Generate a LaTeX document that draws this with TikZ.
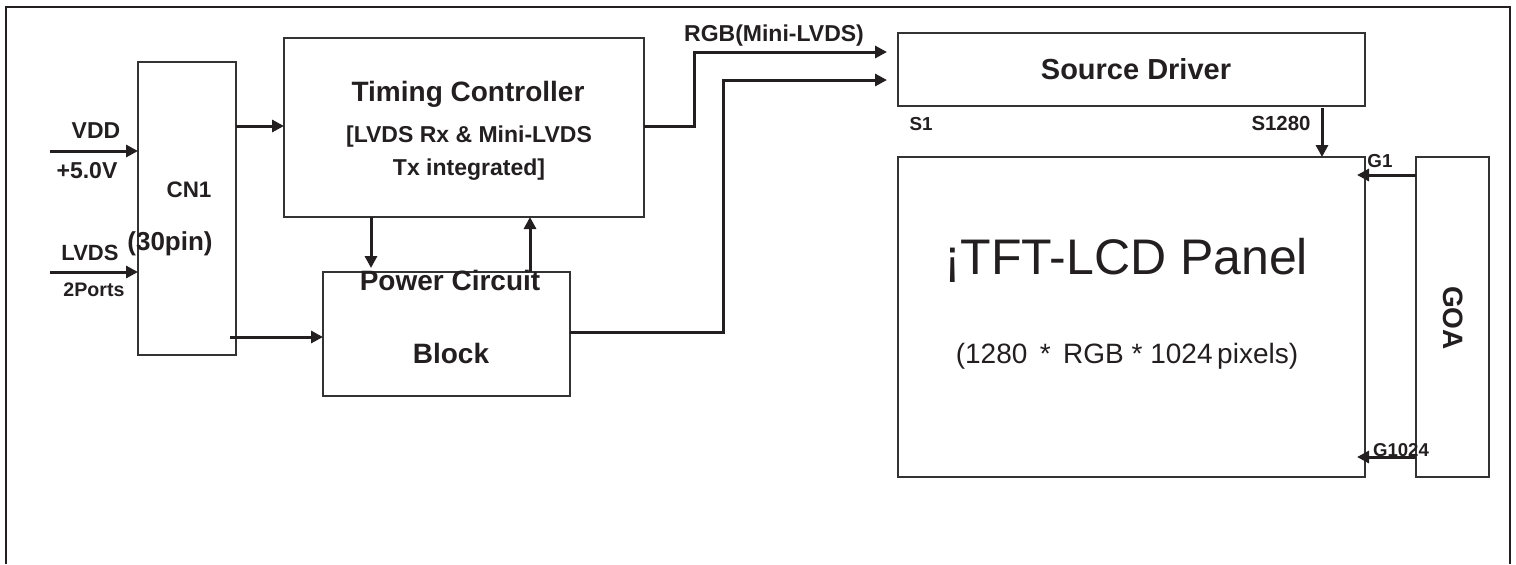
\documentclass[tikz,border=0pt]{standalone}
\usepackage{fontspec}
\setmainfont{Liberation Sans}
\usetikzlibrary{arrows.meta}
\definecolor{ink}{HTML}{231F20}
\definecolor{edge}{HTML}{333333}
\newcommand\fsz[1]{\fontsize{#1}{#1}\selectfont}
\begin{document}
\begin{tikzpicture}[x=0.5pt,y=-0.5pt,
  box/.style={draw=edge,line width=0.95pt,inner sep=0pt,outer sep=0pt,rectangle},
  arr/.style={draw=ink,line width=1.5pt,-{Triangle[length=6pt,width=6pt]}},
  frame/.style={draw=ink,line width=1.2pt},
  lbl/.style={text=ink,inner sep=0pt,anchor=base,font=\bfseries}]
\useasboundingbox (0,0) rectangle (1516,564);
\draw[frame] (6,564) -- (6,7) -- (1510,7) -- (1510,564);

% boxes
\node[box,minimum width=49pt,minimum height=146.5pt] (cn1) at (187,208.5) {};
\node[box,minimum width=180pt,minimum height=89.5pt] (tc) at (464,127.5) {};
\node[box,minimum width=123.5pt,minimum height=62pt] (pb) at (446.5,334) {};
\node[box,minimum width=233.5pt,minimum height=36.5pt] (sd) at (1131.5,69.5) {};
\node[box,minimum width=233.5pt,minimum height=160pt] (panel) at (1131.5,317) {};
\node[box,minimum width=36.5pt,minimum height=160pt] (goa) at (1452.5,317) {};

% labels
\node[lbl] (t1) at (468,101) {\fsz{14}Timing Controller};
\node[lbl] (t2) at (469,142) {\fsz{11.5}[LVDS Rx \& Mini-LVDS};
\node[lbl] (t3) at (469,175) {\fsz{11.5}Tx integrated]};
\node[lbl] (p1) at (450,290) {\fsz{14}Power Circuit};
\node[lbl] (p2) at (451,363) {\fsz{14}Block};
\node[lbl] (c1) at (189,197) {\fsz{11.2}CN1};
\node[lbl] (c2) at (170,250) {\fsz{13}(30pin)};
\node[lbl] (vdd) at (96,138) {\fsz{11.5}VDD};
\node[lbl] (v5) at (87,178) {\fsz{11.5}+5.0V};
\node[lbl] (lv) at (90,260) {\fsz{11}LVDS};
\node[lbl] (pt) at (94,296) {\fsz{9.8}2Ports};
\node[lbl] (rgb) at (774,41) {\fsz{11.5}RGB(Mini-LVDS)};
\node[lbl] (sdt) at (1136,79) {\fsz{14.5}Source Driver};
\node[lbl] (s1) at (921,130) {\fsz{9.4}S1};
\node[lbl] (s1280t) at (1281,130) {\fsz{10.2}S1280};
\node[lbl] (g1) at (1380,167) {\fsz{9.4}G1};
\node[lbl] (g1024) at (1401,456) {\fsz{9.3}G1024};
\node[text=ink,inner sep=0pt,anchor=base] (tft) at (1126,274) {\fsz{25}¡TFT-LCD Panel};
\node[text=ink,inner sep=0pt,anchor=base] (pix) at (1127,363) {\fsz{14}(1280 \,*\, RGB * 1024\,pixels)};
\node[text=ink,inner sep=0pt,font=\bfseries,rotate=-90] (goat) at (1453,318) {\fsz{14}GOA};

% coordinates
\coordinate (vddin) at (50,151);
\coordinate (lvdsin) at (50,272);
\coordinate (ya) at (0,126);
\coordinate (yb) at (0,337);
\coordinate (yc) at (0,332);
\coordinate (dn) at (371,0);
\coordinate (upx) at (530,0);
\coordinate (j1) at (694,52);
\coordinate (j2) at (723,80);
\coordinate (s1280) at (1322,0);
\coordinate (yg1) at (0,175);
\coordinate (yg2) at (0,457);

% connectors
\draw[arr] (vddin) -- (cn1.west |- vddin);
\draw[arr] (lvdsin) -- (cn1.west |- lvdsin);
\draw[arr] (cn1.east |- ya) -- (tc.west |- ya);
\draw[arr] ([xshift=-3pt]cn1.east |- yb) -- (pb.west |- yb);
\draw[arr] (tc.south -| dn) -- ([yshift=2pt]pb.north -| dn);
\draw[arr] (pb.north -| upx) -- (tc.south -| upx);
\draw[arr] (tc.east |- ya) -- (j1 |- ya) -- (j1) -- ([xshift=-5.5pt]sd.west |- j1);
\draw[arr] (pb.east |- yc) -- (j2 |- yc) -- (j2) -- ([xshift=-5.5pt]sd.west |- j2);
\draw[arr] ([yshift=-1pt]sd.south -| s1280) -- (panel.north -| s1280);
\draw[arr] (goa.west |- yg1) -- ([xshift=-4pt]panel.east |- yg1);
\draw[arr] (goa.west |- yg2) -- ([xshift=-4pt]panel.east |- yg2);
\end{tikzpicture}
\end{document}
